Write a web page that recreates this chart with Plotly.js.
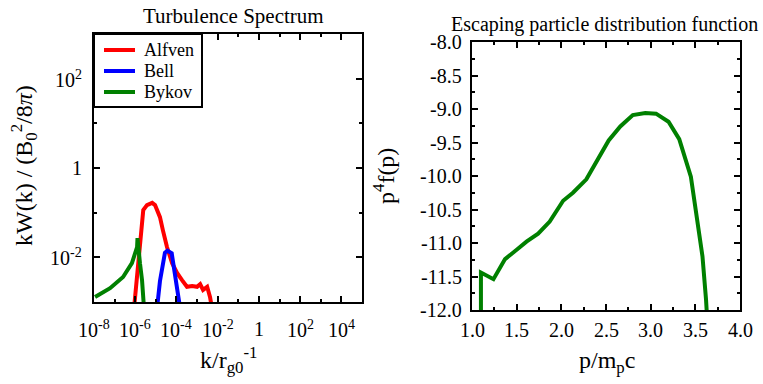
<!DOCTYPE html>
<html>
<head>
<meta charset="utf-8">
<script src="https://cdn.plot.ly/plotly-3.0.1.min.js"></script>
<style>html,body{margin:0;padding:0;background:#fff;}#chart{width:763px;height:384px;}</style>
</head>
<body>
<div id="chart"></div>
<script>
// Left panel: turbulence spectrum (log10 of k and of kW(k))
const alfvenLogK = [-6.09, -5.93, -5.77, -5.61, -5.43, -5.18, -5.04, -4.80, -4.66, -4.46, -4.21, -3.97, -3.73, -3.49, -3.24, -3.00, -2.85, -2.71, -2.51, -2.37, -2.22];
const alfvenLogW = [-3.3, -2.51, -1.76, -0.94, -0.83, -0.78, -0.83, -1.10, -1.39, -1.77, -2.13, -2.35, -2.51, -2.66, -2.64, -2.66, -2.60, -2.73, -2.66, -2.89, -3.3];
const bellLogK = [-4.98, -4.80, -4.56, -4.44, -4.23, -4.07, -3.86, -3.77];
const bellLogW = [-3.3, -2.53, -1.90, -1.85, -1.91, -2.35, -2.86, -3.3];
const bykovLogK = [-7.95, -7.22, -6.59, -6.16, -5.91, -5.89, -5.77, -5.67, -5.55];
const bykovLogW = [-2.89, -2.69, -2.44, -2.13, -1.77, -1.57, -2.13, -2.51, -3.3];
const seriesNames = ['Alfven', 'Bell', 'Bykov'];
const seriesColors = ['#ff0000', '#0000ff', '#008000'];
const kTickVals = [1e-8, 1e-6, 1e-4, 1e-2, 1, 1e2, 1e4];
const kTickText = ['10<sup>-8</sup>', '10<sup>-6</sup>', '10<sup>-4</sup>', '10<sup>-2</sup>', '1', '10<sup>2</sup>', '10<sup>4</sup>'];
const wTickVals = [1e-2, 1, 1e2];
const wTickText = ['10<sup>-2</sup>', '1', '10<sup>2</sup>'];

// Right panel: escaping particle distribution
const pVals = [1.10, 1.10, 1.24, 1.37, 1.50, 1.61, 1.74, 1.87, 2.02, 2.13, 2.28, 2.41, 2.53, 2.66, 2.80, 2.94, 3.06, 3.20, 3.32, 3.45, 3.52, 3.58, 3.62, 3.64];
const fVals = [-13.0, -11.44, -11.54, -11.24, -11.10, -10.98, -10.86, -10.68, -10.37, -10.25, -10.05, -9.76, -9.47, -9.26, -9.09, -9.06, -9.07, -9.19, -9.45, -10.01, -10.66, -11.20, -11.85, -12.3];
const pTickVals = [1.0, 1.5, 2.0, 2.5, 3.0, 3.5, 4.0];
const pTickText = ['1.0', '1.5', '2.0', '2.5', '3.0', '3.5', '4.0'];
const fTickVals = [-12.0, -11.5, -11.0, -10.5, -10.0, -9.5, -9.0, -8.5, -8.0];
const fTickText = ['-12.0', '-11.5', '-11.0', '-10.5', '-10.0', '-9.5', '-9.0', '-8.5', '-8.0'];

const pow10 = a => a.map(v => Math.pow(10, v));
const FONT = 'Liberation Serif';
const W = 763, H = 384;
const px = v => v / W, py = v => 1 - v / H;
const tickFont = {family: FONT, size: 20, color: '#000'};

const traces = [
  {x: pow10(alfvenLogK), y: pow10(alfvenLogW), name: seriesNames[0], mode: 'lines', line: {color: seriesColors[0], width: 4}, xaxis: 'x', yaxis: 'y'},
  {x: pow10(bellLogK), y: pow10(bellLogW), name: seriesNames[1], mode: 'lines', line: {color: seriesColors[1], width: 4}, xaxis: 'x', yaxis: 'y'},
  {x: pow10(bykovLogK), y: pow10(bykovLogW), name: seriesNames[2], mode: 'lines', line: {color: seriesColors[2], width: 4}, xaxis: 'x', yaxis: 'y'},
  {x: pVals, y: fVals, name: 'p4f(p)', mode: 'lines', line: {color: '#008000', width: 4}, xaxis: 'x2', yaxis: 'y2'}
];

function axis(extra, minorVals) {
  const a = {
    showline: true, linecolor: '#000', linewidth: 2, mirror: 'allticks',
    ticks: 'inside', ticklen: 6, tickwidth: 2, tickcolor: '#000',
    showgrid: false, zeroline: false, tickmode: 'array', showticklabels: false,
    minor: {tickmode: 'array', tickvals: minorVals, ticks: 'inside', ticklen: 3, tickwidth: 2, tickcolor: '#000', showgrid: false}
  };
  for (const k in extra) a[k] = extra[k];
  return a;
}

// Tick labels as serif text placed through the axes' own scales
const tickLabels = [].concat(
  kTickVals.map((v, i) => ({text: kTickText[i], xref: 'x', yref: 'paper', x: Math.log10(v), y: py(329), xanchor: 'center', yanchor: 'middle', showarrow: false, font: tickFont})),
  wTickVals.map((v, i) => ({text: wTickText[i], xref: 'paper', yref: 'y', x: px(84), y: Math.log10(v), xanchor: 'right', yanchor: 'middle', showarrow: false, font: tickFont})),
  pTickVals.map((v, i) => ({text: pTickText[i], xref: 'x2', yref: 'paper', x: v, y: py(330), xanchor: 'center', yanchor: 'middle', showarrow: false, font: tickFont})),
  fTickVals.map((v, i) => ({text: fTickText[i], xref: 'paper', yref: 'y2', x: px(464), y: v, xanchor: 'right', yanchor: 'middle', showarrow: false, font: tickFont}))
);

// Legend drawn as a boxed key (shapes + text) to match the reference spacing
const legendShapes = [
  {type: 'rect', xref: 'paper', yref: 'paper', x0: px(94), x1: px(202), y0: py(34), y1: py(107), line: {color: '#000', width: 2}, fillcolor: '#fff', layer: 'above'}
].concat(seriesColors.map((c, i) => ({
  type: 'line', xref: 'paper', yref: 'paper', x0: px(104), x1: px(135), y0: py(50 + 21 * i), y1: py(50 + 21 * i), line: {color: c, width: 4}, layer: 'above'
})));
const legendTexts = seriesNames.map((n, i) => ({
  text: n, xref: 'paper', yref: 'paper', x: px(142), y: py(50 + 21 * i), xanchor: 'left', yanchor: 'middle', showarrow: false,
  font: {family: FONT, size: 18, color: '#000'}
}));

const layout = {
  width: W, height: H,
  margin: {l: 0, r: 0, t: 0, b: 0},
  paper_bgcolor: '#fff', plot_bgcolor: '#fff',
  font: {family: FONT, size: 20, color: '#000'},
  showlegend: false,
  xaxis: axis({domain: [px(94), px(362)], type: 'log', range: [-8, 5], anchor: 'y', tickvals: kTickVals}, [1e-7, 1e-5, 1e-3, 1e-1, 1e1, 1e3]),
  yaxis: axis({domain: [1 - 302 / H, 1 - 34 / H], type: 'log', range: [-3, 3], anchor: 'x', tickvals: wTickVals}, [1e-1, 1e1]),
  xaxis2: axis({domain: [px(472), px(740)], range: [1, 4], anchor: 'y2', tickvals: pTickVals}, [1.25, 1.75, 2.25, 2.75, 3.25, 3.75]),
  yaxis2: axis({domain: [1 - 310 / H, 1 - 42 / H], range: [-12, -8], anchor: 'x2', tickvals: fTickVals}, [-11.75, -11.25, -10.75, -10.25, -9.75, -9.25, -8.75, -8.25]),
  shapes: legendShapes,
  annotations: [
    {text: 'Turbulence Spectrum', xref: 'paper', yref: 'paper', x: px(233), y: py(16), xanchor: 'center', yanchor: 'middle', showarrow: false, font: {family: FONT, size: 21, color: '#000'}},
    {text: 'Escaping particle distribution function', xref: 'paper', yref: 'paper', x: px(604), y: py(24), xanchor: 'center', yanchor: 'middle', showarrow: false, font: {family: FONT, size: 20, color: '#000'}},
    {text: 'k/r<sub>g0</sub><sup>-1</sup>', xref: 'paper', yref: 'paper', x: px(228), y: py(360), xanchor: 'center', yanchor: 'middle', showarrow: false, font: {family: FONT, size: 24, color: '#000'}},
    {text: 'p/m<sub>p</sub>c', xref: 'paper', yref: 'paper', x: px(607), y: py(362), xanchor: 'center', yanchor: 'middle', showarrow: false, font: {family: FONT, size: 24, color: '#000'}},
    {text: 'kW(k) / (B<sub>0</sub><sup>2</sup>/8<i>π</i>)', xref: 'paper', yref: 'paper', x: px(24), y: py(166), xanchor: 'center', yanchor: 'middle', textangle: -90, showarrow: false, font: {family: FONT, size: 24, color: '#000'}},
    {text: 'p<sup>4</sup>f(p)', xref: 'paper', yref: 'paper', x: px(384), y: py(176), xanchor: 'center', yanchor: 'middle', textangle: -90, showarrow: false, font: {family: FONT, size: 24, color: '#000'}}
  ].concat(legendTexts, tickLabels)
};

Plotly.newPlot('chart', traces, layout, {staticPlot: true, displayModeBar: false});
</script>
</body>
</html>
